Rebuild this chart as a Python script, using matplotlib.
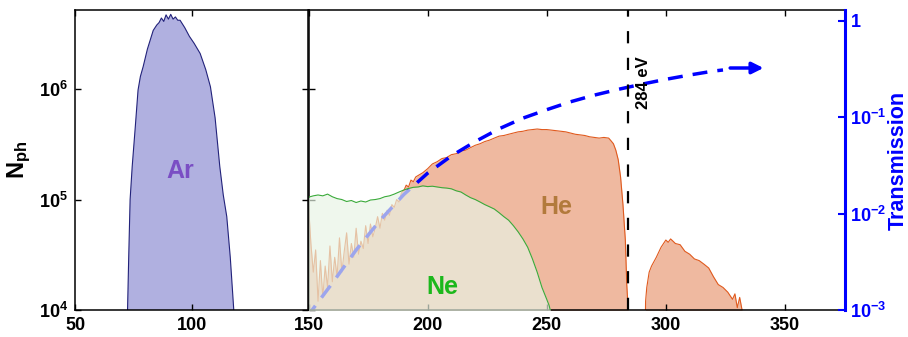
import matplotlib
matplotlib.use("Agg")
import matplotlib.pyplot as plt
from matplotlib.ticker import NullLocator, FixedLocator, FixedFormatter

plt.rcParams['font.family'] = ['Liberation Sans', 'DejaVu Sans']
plt.rcParams['mathtext.fontset'] = 'custom'
plt.rcParams['mathtext.rm'] = 'Liberation Sans:bold'
plt.rcParams['mathtext.bf'] = 'Liberation Sans:bold'
plt.rcParams['mathtext.it'] = 'Liberation Sans:bold:italic'
plt.rcParams['mathtext.default'] = 'bf'

# Ar spectrum (left panel)
ar_e = [72.5, 73, 73.6, 74.5, 75.8, 77, 78, 79.2, 81, 83.5, 85, 86, 87, 88, 89, 90, 91, 92, 93, 94,
        95, 97, 99, 101, 103.6, 106, 108, 110, 112, 113.5, 115, 116.5, 118, 118.5]
ar_n = [1e4, 3e4, 1e5, 2e5, 4.5e5, 9.8e5, 1.3e6, 1.6e6, 2.3e6, 3.4e6, 3.8e6, 4.0e6, 4.4e6, 4.1e6, 4.7e6,
        4.3e6, 4.75e6, 4.3e6, 4.5e6, 4.2e6, 4.2e6, 3.6e6, 3.0e6, 2.6e6, 2.1e6, 1.5e6, 1.05e6, 5.5e5,
        2e5, 1.1e5, 7e4, 3e4, 1e4, 1e3]

# He spectrum (right panel)
he_e = list(range(150, 197)) + list(range(198, 277, 2)) + \
       [277, 278, 279, 280, 281, 282, 283, 283.6, 284.2, 284.5, 290.8, 291.5, 292, 293, 294, 296, 298,
        300, 301, 302, 303, 304, 306, 308, 310, 312, 314, 316, 318, 320, 322, 324, 326, 328, 329, 330,
        331, 332, 332.5]
he_n = [9e4, 4e4, 2.2e4, 3.5e4, 1.2e4, 2.8e4, 1.3e4, 2.5e4, 1.6e4, 3.8e4,
        1.8e4, 3e4, 2e4, 4.5e4, 2.2e4, 3.4e4, 5e4, 2.6e4, 4e4, 3e4,
        5.5e4, 3.2e4, 4.2e4, 3.6e4, 5.8e4, 4e4, 6e4, 4.6e4, 5.5e4, 7e4,
        5.5e4, 7.5e4, 6.5e4, 8e4, 7.2e4, 9e4, 8.5e4, 1.0e5, 9.5e4, 1.15e5,
        1.2e5, 1.35e5, 1.3e5, 1.5e5, 1.45e5, 1.6e5, 1.65e5,
        1.75e5, 1.9e5, 2.1e5, 2.2e5, 2.35e5, 2.4e5, 2.55e5, 2.6e5, 2.75e5, 2.8e5,
        2.95e5, 3.1e5, 3.2e5, 3.35e5, 3.45e5, 3.6e5, 3.75e5, 3.8e5, 3.9e5, 4.0e5,
        4.1e5, 4.15e5, 4.25e5, 4.3e5, 4.35e5, 4.3e5, 4.3e5, 4.25e5, 4.2e5, 4.15e5,
        4.1e5, 4.0e5, 3.9e5, 3.85e5, 3.8e5, 3.7e5, 3.65e5, 3.6e5, 3.65e5, 3.6e5,
        3.4e5, 3.2e5, 2.8e5, 2.3e5, 1.6e5, 9e4, 4.3e4, 1.7e4, 1e4, 1e3, 1e3,
        1.2e4, 1.6e4, 2.2e4, 2.5e4, 3e4, 3.7e4, 4.3e4, 4.1e4, 4.4e4, 4.2e4,
        4.0e4, 3.9e4, 3.4e4, 3.2e4, 2.9e4, 2.8e4, 2.6e4, 2.4e4, 2.0e4, 1.7e4,
        1.6e4, 1.45e4, 1.25e4, 1.4e4, 1.05e4, 1.3e4, 1.0e4, 1e3]

# Ne spectrum (right panel)
ne_e = list(range(150, 251, 2)) + [251, 252, 252.5]
ne_n = [1.05e5, 1.08e5, 1.1e5, 1.08e5, 1.12e5, 1.06e5, 1.02e5, 1.0e5, 9.6e4, 9.8e4,
        9.4e4, 9.7e4, 9.5e4, 9.9e4, 1.0e5, 1.02e5, 1.06e5, 1.08e5, 1.12e5, 1.17e5,
        1.22e5, 1.26e5, 1.29e5, 1.3e5, 1.33e5, 1.31e5, 1.32e5, 1.3e5, 1.28e5, 1.27e5,
        1.25e5, 1.2e5, 1.17e5, 1.1e5, 1.04e5, 1.0e5, 9.5e4, 9.0e4, 8.6e4, 8.2e4,
        7.6e4, 7.0e4, 6.5e4, 5.8e4, 5.1e4, 4.4e4, 3.7e4, 2.9e4, 2.2e4, 1.6e4,
        1.25e4, 1.1e4, 9e3, 1e3]

# filter transmission
tr_e = [150, 160, 170, 180, 190, 200, 210, 220, 230, 240, 250, 260, 270, 280, 290, 300, 310, 320, 324]
tr_t = [8.9e-4, 1.9e-3, 4.2e-3, 8.5e-3, 1.58e-2, 2.63e-2, 3.98e-2, 5.6e-2, 7.6e-2, 9.8e-2, 0.12,
        0.145, 0.17, 0.195, 0.221, 0.248, 0.275, 0.302, 0.31]
arrow_e = [327, 341]
arrow_t = 0.325

fig = plt.figure(figsize=(9.08, 3.37), dpi=100)
W, H = 908.0, 337.0
ax1 = fig.add_axes([75 / W, 27 / H, 233.5 / W, 300 / H])
ax2 = fig.add_axes([308.5 / W, 27 / H, 536 / W, 300 / H])
ax3 = ax2.twinx()

ylo, yhi = 1e4, 5.2e6

# left panel
ax1.fill_between(ar_e, ar_n, 1e3, color='#b0b0e0', lw=0, zorder=1)
ax1.plot(ar_e, ar_n, color='#22227a', lw=0.8, zorder=2)
ax1.text(95, 1.8e5, 'Ar', color='#7a4ec4', fontsize=18, fontweight='bold', ha='center', va='center')
ax1.set_xlim(50, 150)
ax1.set_yscale('log')
ax1.set_ylim(ylo, yhi)
ax1.set_xticks([50, 100, 150])
ax1.set_xticklabels(['50', '100', '150'])
ax1.set_ylabel(r'$\mathbf{N_{ph}}$', fontsize=17, labelpad=4)

# right panel
ax2.fill_between(he_e, he_n, 1e3, color='#efb9a0', lw=0, zorder=1)
ax2.plot(he_e, he_n, color='#e05a1e', lw=0.8, zorder=1.5)
ax2.plot(tr_e, tr_t, color='blue', lw=2.5, ls=(1, (4.3, 2.9)), transform=ax3.transData, zorder=2)
ax2.annotate('', xy=(arrow_e[1], arrow_t), xytext=(arrow_e[0], arrow_t), xycoords=ax3.transData,
             textcoords=ax3.transData,
             arrowprops=dict(arrowstyle='-|>', color='blue', lw=2.5, mutation_scale=17,
                             shrinkA=0, shrinkB=0))
ax2.fill_between(ne_e, ne_n, 1e3, color='#e8f4e5', alpha=0.68, lw=0, zorder=3)
ax2.plot(ne_e, ne_n, color='#3aaa3a', lw=0.8, zorder=3.5)
ax2.axvline(284, color='black', lw=1.6, ls=(0, (5.5, 6.5)), zorder=4)
ax2.text(290.6, 1.15e6, '284 eV', rotation=90, fontsize=12, fontweight='bold', ha='center', va='center')
ax2.text(254, 8.6e4, 'He', color='#b27a3c', fontsize=18, fontweight='bold', ha='center', va='center')
ax2.text(206, 1.6e4, 'Ne', color='#1cb81c', fontsize=18, fontweight='bold', ha='center', va='center')
ax2.set_xlim(150, 375)
ax2.set_yscale('log')
ax2.set_ylim(ylo, yhi)
ax2.set_xticks([150, 200, 250, 300, 350])
ax2.set_xticklabels(['', '200', '250', '300', '350'])
ax2.set_yticklabels([])
ax2.spines['right'].set_visible(False)

# transmission axis
ax3.set_yscale('log')
ax3.set_ylim(1e-3, 1.3)
ax3.yaxis.set_major_locator(FixedLocator([1e-3, 1e-2, 1e-1, 1]))
ax3.yaxis.set_major_formatter(FixedFormatter([r'$10^{-3}$', r'$10^{-2}$', r'$10^{-1}$', r'$1$']))
ax3.yaxis.set_minor_locator(NullLocator())
ax3.tick_params(axis='y', direction='in', length=5, width=1.5, colors='blue', labelsize=13, pad=4)
for s in ['left', 'top', 'bottom']:
    ax3.spines[s].set_visible(False)
ax3.spines['right'].set_color('blue')
ax3.spines['right'].set_linewidth(2.2)
ax3.set_ylabel('Transmission', color='blue', fontsize=15.5, fontweight='bold')
ax3.yaxis.set_label_coords(1.08, 0.5)

for ax in (ax1, ax2):
    ax.yaxis.set_major_locator(FixedLocator([1e4, 1e5, 1e6]))
    ax.yaxis.set_minor_locator(NullLocator())
    ax.xaxis.set_minor_locator(NullLocator())
    ax.tick_params(direction='in', length=4, width=1, labelsize=13, top=True, pad=5)
    for s in ax.spines.values():
        s.set_linewidth(1.1)
ax1.tick_params(axis='y', right=True)
ax1.set_yticklabels([r'$10^{4}$', r'$10^{5}$', r'$10^{6}$'])
ax2.tick_params(axis='y', left=True, right=False)
for lab in ax1.get_xticklabels() + ax2.get_xticklabels():
    lab.set_fontweight('bold')

fig.savefig('out.png', dpi=100)
